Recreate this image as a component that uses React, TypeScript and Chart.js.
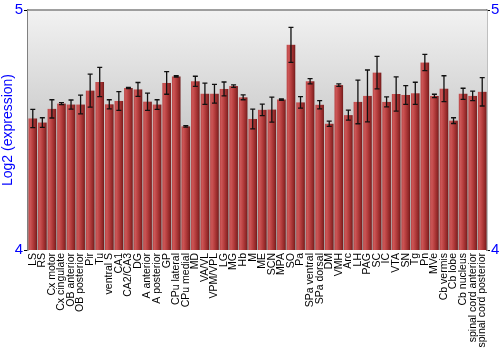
import React, { useEffect, useRef } from "react";
import { Chart, registerables } from "chart.js";

Chart.register(...registerables);

const categories = [
  "LS", "RS", "Cx motor", "Cx cingulate", "OB anterior", "OB posterior", "Pir", "Tu",
  "ventral S", "CA1", "CA2/CA3", "DG", "A anterior", "A posterior", "GP", "CPu lateral",
  "CPu medial", "MD", "VA/VL", "VPM/VPL", "LG", "MG", "Hb", "M", "ME", "SCN", "MPA", "SO",
  "Pa", "SPa ventral", "SPa dorsal", "DM", "VMH", "Arc", "LH", "PAG", "SC", "IC", "VTA",
  "SN", "Tg", "Pn", "MVe", "Cb vermis", "Cb lobe", "Cb nucleus", "spinal cord anterior",
  "spinal cord posterior",
];

const values = [
  4.548, 4.531, 4.588, 4.610, 4.606, 4.606, 4.664, 4.700,
  4.607, 4.621, 4.675, 4.669, 4.618, 4.606, 4.696, 4.723,
  4.515, 4.703, 4.651, 4.651, 4.671, 4.683, 4.636, 4.546, 4.584, 4.585, 4.627, 4.855,
  4.615, 4.703, 4.605, 4.526, 4.687, 4.562, 4.617, 4.642, 4.739, 4.617, 4.650,
  4.646, 4.653, 4.781, 4.642, 4.672, 4.539, 4.651, 4.642, 4.659,
];

const errors = [
  0.038, 0.020, 0.038, 0.004, 0.019, 0.039, 0.069, 0.061,
  0.019, 0.039, 0.003, 0.029, 0.036, 0.020, 0.047, 0.003,
  0.003, 0.021, 0.044, 0.039, 0.029, 0.005, 0.010, 0.041, 0.024, 0.052, 0.003, 0.073,
  0.024, 0.011, 0.017, 0.011, 0.005, 0.021, 0.091, 0.108, 0.068, 0.021, 0.071,
  0.039, 0.046, 0.034, 0.007, 0.054, 0.012, 0.023, 0.020, 0.059,
];

const yTicks = [4, 5];

const bgPlugin = {
  id: "bgGradient",
  beforeDatasetsDraw(chart: any) {
    const { ctx, chartArea } = chart;
    const g = ctx.createLinearGradient(0, chartArea.top, 0, chartArea.bottom);
    g.addColorStop(0, "#f2f2f2");
    g.addColorStop(1, "#a4a4a4");
    ctx.save();
    ctx.fillStyle = g;
    ctx.fillRect(chartArea.left, chartArea.top, chartArea.right - chartArea.left, chartArea.bottom - chartArea.top);
    ctx.restore();
  },
};

const barShadePlugin = {
  id: "barShade",
  afterDatasetsDraw(chart: any) {
    const { ctx, chartArea } = chart;
    const meta = chart.getDatasetMeta(0);
    const yScale = chart.scales.y;
    ctx.save();
    ctx.beginPath();
    ctx.rect(chartArea.left, chartArea.top, chartArea.right - chartArea.left, chartArea.bottom - chartArea.top);
    ctx.clip();
    meta.data.forEach((el: any, i: number) => {
      const { x, y, width } = el.getProps(["x", "y", "base", "width"], true);
      const bottom = chartArea.bottom;
      const left = x - width / 2;
      const g = ctx.createLinearGradient(left, 0, left + width, 0);
      g.addColorStop(0, "#b84444");
      g.addColorStop(0.2, "#cc5656");
      g.addColorStop(0.5, "#b63e3e");
      g.addColorStop(0.85, "#8e2626");
      g.addColorStop(1, "#6e1a1a");
      ctx.fillStyle = g;
      ctx.fillRect(left, y, width, bottom - y);
      const v = values[i];
      const e = errors[i];
      const yHi = yScale.getPixelForValue(v + e);
      const yLo = yScale.getPixelForValue(v - e);
      ctx.strokeStyle = "#111111";
      ctx.lineWidth = 1.3;
      ctx.beginPath();
      ctx.moveTo(x, yHi);
      ctx.lineTo(x, yLo);
      ctx.moveTo(x - 2.5, yHi);
      ctx.lineTo(x + 2.5, yHi);
      ctx.moveTo(x - 2.5, yLo);
      ctx.lineTo(x + 2.5, yLo);
      ctx.stroke();
    });
    ctx.restore();
  },
};

export default function App() {
  const canvasRef = useRef<HTMLCanvasElement | null>(null);

  useEffect(() => {
    if (!canvasRef.current) return;
    const chart = new Chart(canvasRef.current, {
      type: "bar",
      data: {
        labels: categories,
        datasets: [
          {
            data: values,
            backgroundColor: "rgba(0,0,0,0)",
            borderWidth: 0,
            barPercentage: 0.9,
            categoryPercentage: 1.0,
          },
        ],
      },
      options: {
        animation: false,
        responsive: false,
        maintainAspectRatio: false,
        layout: { padding: { top: 9, left: 0, right: 0, bottom: 0 } },
        plugins: {
          legend: { display: false },
          tooltip: { enabled: false },
        },
        scales: {
          x: {
            offset: true,
            grid: { display: false, drawTicks: false },
            border: { display: false },
            ticks: {
              color: "#000000",
              autoSkip: false,
              minRotation: 90,
              maxRotation: 90,
              padding: 3,
              font: { family: "'Liberation Sans', Arial, sans-serif", size: 10.5 },
            },
            afterFit(scale: any) {
              scale.height = 100;
            },
          },
          y: {
            position: "left",
            min: yTicks[0],
            max: yTicks[1],
            afterBuildTicks(scale: any) {
              scale.ticks = yTicks.map((v) => ({ value: v }));
            },
            grid: { drawOnChartArea: false, drawTicks: true, tickLength: 4, color: "#000000" },
            border: { display: true, color: "#808080", width: 1.5 },
            ticks: {
              color: "#0000ff",
              padding: 1,
              font: { family: "'Liberation Sans', Arial, sans-serif", size: 15 },
            },
            title: {
              display: true,
              text: "Log2 (expression)",
              color: "#0000ff",
              padding: 0,
              font: { family: "'Liberation Sans', Arial, sans-serif", size: 14 },
            },
            afterFit(scale: any) {
              scale.width = 28;
            },
          },
          y2: {
            position: "right",
            min: yTicks[0],
            max: yTicks[1],
            afterBuildTicks(scale: any) {
              scale.ticks = yTicks.map((v) => ({ value: v }));
            },
            grid: { drawOnChartArea: false, drawTicks: true, tickLength: 3, color: "#000000" },
            border: { display: true, color: "#808080", width: 1.5 },
            ticks: {
              color: "#0000ff",
              padding: 1,
              font: { family: "'Liberation Sans', Arial, sans-serif", size: 15 },
            },
            afterFit(scale: any) {
              scale.width = 13;
            },
          },
        },
      },
      plugins: [
        bgPlugin,
        barShadePlugin,
        {
          id: "topBorder",
          afterDraw(chart: any) {
            const { ctx, chartArea } = chart;
            ctx.save();
            ctx.strokeStyle = "#808080";
            ctx.lineWidth = 1.5;
            ctx.beginPath();
            ctx.moveTo(chartArea.left, chartArea.top);
            ctx.lineTo(chartArea.right, chartArea.top);
            ctx.stroke();
            ctx.restore();
          },
        },
      ],
    } as any);
    return () => chart.destroy();
  }, []);

  return (
    <div style={{ position: "fixed", left: 0, top: 0, width: 500, height: 350, background: "#ffffff" }}>
      <canvas ref={canvasRef} width={500} height={350} style={{ display: "block" }} />
    </div>
  );
}
